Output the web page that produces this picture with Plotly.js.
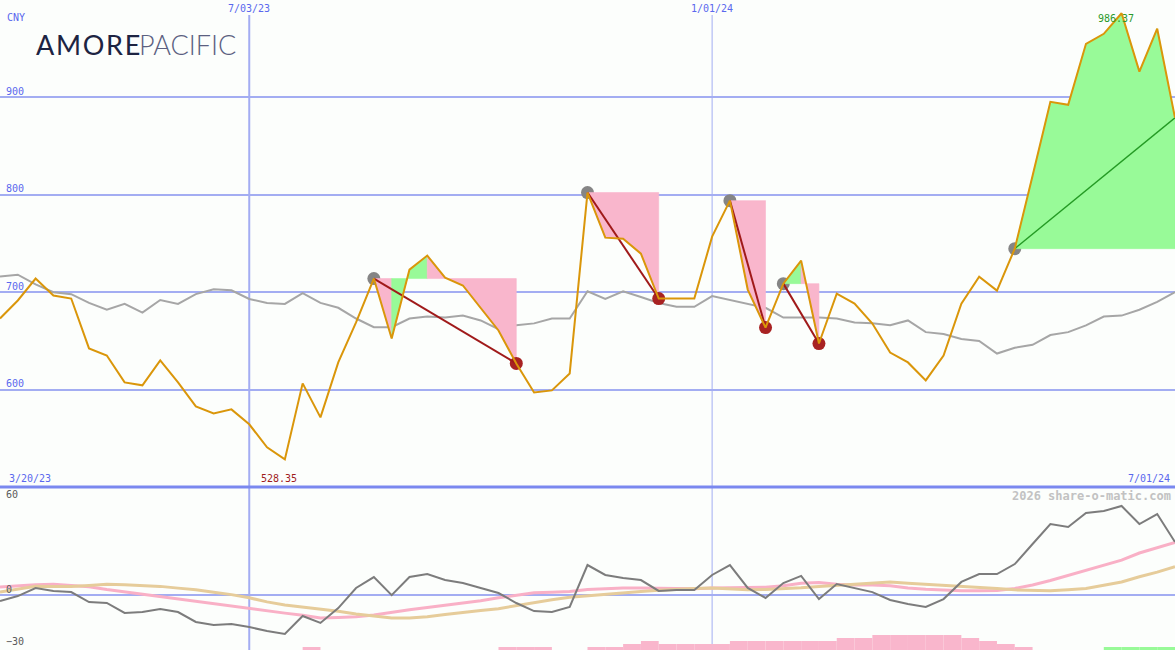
<!DOCTYPE html>
<html>
<head>
<meta charset="utf-8">
<script src="https://cdn.plot.ly/plotly-3.0.1.min.js"></script>
<style>
html,body{margin:0;padding:0;background:#fcfefc;}
#chart{width:1175px;height:650px;}
</style>
</head>
<body>
<div id="chart"></div>
<script>
// ---------- DATA ----------
const startDate = '2023-03-27';   // first weekly bar (Mondays)
const nWeeks = 67;
const currency = 'CNY';
const brandA = 'AMORE';
const brandB = 'PACIFIC';

// weekly close price (CNY)
const price = [673, 691.5, 714, 696.6, 693.5, 642.3, 635, 607.4, 604.4, 630,
  607.4, 582.8, 575.6, 579.7, 564.4, 540.8, 528.35, 606.4, 571.5, 628,
  669, 714, 652.5, 723.2, 737.6, 715, 706.9, 683.3, 660.7, 626.9,
  597.1, 599.2, 616.6, 802.3, 756, 755, 739.6, 693.5, 693.5, 693.5,
  757, 794, 702.7, 663.7, 708.8, 732.4, 647.3, 698.5, 688.3, 667.8,
  638, 627.9, 609.4, 635, 688.3, 716, 701.6, 744.7, 819.6, 895.5,
  892.4, 955, 965.3, 986.37, 926.5, 970.5, 879];

// moving average (grey)
const movingAvg = [716, 718, 708, 700, 698, 689, 682, 688, 679, 692,
  688, 698, 703, 702, 693, 689, 688, 699, 689, 684,
  673, 664, 664, 673, 675, 674, 676, 671, 662, 666,
  668, 673, 673, 701, 693, 701, 695, 689, 685, 685,
  696, 692, 688, 684, 674, 674, 674, 673, 669, 668,
  666, 671, 659, 657, 652, 650, 637, 643, 646, 656,
  659, 666, 675, 676, 682, 690, 700];

// lower panel: momentum (grey), fast signal (pink), slow signal (tan)
const momentum = [-4.0, -0.9, 4.2, 2.3, 1.6, -4.7, -5.3, -11.6, -11.0, -9.1,
  -11.0, -17.3, -19.2, -18.6, -20.5, -23.0, -24.9, -13.5, -17.9, -8.5,
  4.2, 11.1, -0.3, 11.1, 13.0, 9.2, 7.3, 4.2, 1.0, -5.3,
  -10.4, -11.0, -7.8, 18.7, 12.4, 10.5, 9.2, 2.3, 2.9, 2.9,
  12.4, 18.7, 4.2, -2.1, 7.3, 11.8, -2.8, 6.7, 4.2, 1.6,
  -3.4, -5.9, -7.8, -2.8, 8.0, 13.0, 13.0, 19.3, 32.0, 44.6,
  42.7, 51.6, 52.8, 56.0, 44.6, 50.9, 33.2];
const signalFast = [4.8, 5.5, 6.3, 6.5, 5.6, 5.0, 3.2, 1.7, 0.0, -1.5,
  -3.0, -4.4, -5.8, -7.4, -9.0, -10.5, -11.7, -13.0, -14.8, -14.5,
  -14.0, -12.9, -11.1, -9.6, -8.1, -6.8, -5.4, -3.9, -2.0, -0.3,
  1.1, 1.5, 2.0, 3.3, 3.9, 4.2, 4.2, 4.0, 3.6, 3.7,
  4.1, 4.3, 4.5, 4.7, 5.6, 7.2, 7.6, 6.6, 6.1, 6.1,
  5.6, 4.2, 3.4, 2.8, 2.5, 2.4, 2.6, 3.9, 6.1, 8.9,
  12.1, 15.3, 18.4, 21.8, 26.3, 29.8, 33.0];
const signalSlow = [1.6, 3.5, 5.3, 5.1, 5.1, 5.8, 6.6, 6.3, 5.8, 5.2,
  4.1, 3.1, 1.5, 0.0, -2.0, -4.6, -6.5, -7.8, -8.9, -10.5,
  -12.2, -13.6, -14.8, -14.8, -14.0, -12.6, -11.1, -10.0, -8.9, -6.9,
  -5.0, -3.2, -1.7, -0.7, 0.1, 1.0, 2.0, 2.8, 3.4, 3.8,
  4.1, 3.6, 3.0, 3.3, 3.6, 4.3, 5.1, 5.9, 6.4, 7.3,
  7.9, 7.2, 6.6, 5.8, 5.2, 4.6, 3.8, 3.0, 2.7, 2.4,
  3.1, 3.9, 5.9, 8.0, 11.3, 14.2, 17.6];

// histogram strength blocks at the bottom (levels)
const pinkBars = [0,0,0,0,0,0,0,0,0,0, 0,0,0,0,0,0,0,1,0,0,
  0,0,0,0,0,0,0,0,1,1, 1,0,0,1,1,2,3,2,2,2,
  2,3,3,3,3,3,3,4,4,5, 5,5,5,5,4,3,2,1,0,0,
  0,0,0,0,0,0,0];
const greenBars = [0,0,0,0,0,0,0,0,0,0, 0,0,0,0,0,0,0,0,0,0,
  0,0,0,0,0,0,0,0,0,0, 0,0,0,0,0,0,0,0,0,0,
  0,0,0,0,0,0,0,0,0,0, 0,0,0,0,0,0,0,0,0,0,
  0,0,1,1,1,1,1];

// trades (week indexes); exit null = still open
const tradeEntry = [21, 33, 41, 44, 57];
const tradeExit  = [29, 37, 43, 46, null];

// axes
const priceGrid = [600, 700, 800, 900];
const momentumLabels = [60, 0, -30];
const markerDates = ['2023-07-03', '2024-01-01'];
const markerLabels = ['7/03/23', '1/01/24'];
const markerWidths = [2, 1];
const firstLabel = '3/20/23';
const lastLabel = '7/01/24';
const credit = '2026 share-o-matic.com';

// ---------- BUILD ----------
const DAY = 86400000;
const t0 = Date.parse(startDate + 'T00:00:00Z');
const dates = [];
const mids = [];
for (let i = 0; i < nWeeks; i++) {
  dates.push(new Date(t0 + i * 7 * DAY).toISOString().slice(0, 10));
  mids.push(new Date(t0 + i * 7 * DAY + 3.5 * DAY).toISOString().slice(0, 19));
}
const last = nWeeks - 1;

const H = 650;
const mainBottom = 163 / H;
const py = px => 1 - px / H;  // pixel-from-top -> paper

const PINK = '#f9b6cc', GREEN = '#98fa98';
const MONO = 'DejaVu Sans Mono';
const BLUE_TXT = '#5a68ee';
const GRID = '#a3adf2';

const traces = [];

// grey moving average
traces.push({x: dates, y: movingAvg, mode: 'lines', line: {color: '#a6a6a6', width: 2}, hoverinfo: 'skip'});

// entry markers (grey)
traces.push({x: tradeEntry.map(i => dates[i]), y: tradeEntry.map(i => price[i]), mode: 'markers',
  marker: {color: '#858585', size: 13}, hoverinfo: 'skip'});

// trade fills: runs of same-colour segments merged into one polygon
tradeEntry.forEach((e, k) => {
  const open = tradeExit[k] === null;
  const x = open ? last : tradeExit[k];
  const lvl = price[e];
  const segCol = i => open ? GREEN : (price[i + 1] > price[i] ? GREEN : PINK);
  let s = e;
  while (s < x) {
    const col = segCol(s);
    let t = s + 1;
    while (t < x && segCol(t) === col) t++;
    const xs = [dates[s]], ys = [lvl];
    for (let i = s; i <= t; i++) { xs.push(dates[i]); ys.push(price[i]); }
    xs.push(dates[t], dates[s]); ys.push(lvl, lvl);
    traces.push({x: xs, y: ys, mode: 'lines', fill: 'toself', fillcolor: col,
      line: {width: 0.6, color: col}, hoverinfo: 'skip'});
    s = t;
  }
});

// exit markers (red)
const closed = tradeExit.filter(v => v !== null);
traces.push({x: closed.map(i => dates[i]), y: closed.map(i => price[i]), mode: 'markers',
  marker: {color: '#a82222', size: 13}, hoverinfo: 'skip'});

// trade lines
tradeEntry.forEach((e, k) => {
  const open = tradeExit[k] === null;
  const x = open ? last : tradeExit[k];
  traces.push({x: [dates[e], dates[x]], y: [price[e], price[x]], mode: 'lines',
    line: {color: open ? '#249a24' : '#a01a1a', width: open ? 1.5 : 2}, hoverinfo: 'skip'});
});

// price line
traces.push({x: dates, y: price, mode: 'lines', line: {color: '#da960a', width: 2}, hoverinfo: 'skip'});

// lower panel bars
traces.push({x: mids, y: pinkBars, type: 'bar', width: 7 * DAY, yaxis: 'y3',
  marker: {color: PINK, line: {width: 0}}, hoverinfo: 'skip'});
traces.push({x: mids, y: greenBars, type: 'bar', width: 7 * DAY, yaxis: 'y3',
  marker: {color: GREEN, line: {width: 0}}, hoverinfo: 'skip'});

// lower panel lines
traces.push({x: dates, y: signalFast, yaxis: 'y2', mode: 'lines', line: {color: '#f9b0c6', width: 3}, hoverinfo: 'skip'});
traces.push({x: dates, y: signalSlow, yaxis: 'y2', mode: 'lines', line: {color: '#e6cc9a', width: 3}, hoverinfo: 'skip'});
traces.push({x: dates, y: momentum, yaxis: 'y2', mode: 'lines', line: {color: '#7c7c7c', width: 2}, hoverinfo: 'skip'});

// ---------- ANNOTATIONS ----------
const ann = [];
const small = (c) => ({family: MONO, size: 10, color: c});

ann.push({xref: 'paper', yref: 'paper', x: 0, y: py(17), xshift: 5, text: currency, showarrow: false,
  xanchor: 'left', yanchor: 'middle', font: small(BLUE_TXT)});
priceGrid.forEach(v => ann.push({xref: 'paper', yref: 'y', x: 0, y: v, xshift: 4, yshift: 6, text: String(v),
  showarrow: false, xanchor: 'left', yanchor: 'middle', font: small(BLUE_TXT)}));
markerDates.forEach((d, k) => ann.push({xref: 'x', yref: 'paper', x: d, y: py(8), text: markerLabels[k],
  showarrow: false, xanchor: 'center', yanchor: 'middle', font: small(BLUE_TXT)}));
ann.push({xref: 'paper', yref: 'paper', x: 0, y: py(478), xshift: 7, text: firstLabel, showarrow: false,
  xanchor: 'left', yanchor: 'middle', font: small(BLUE_TXT)});
ann.push({xref: 'paper', yref: 'paper', x: 1, y: py(478), xshift: -3, text: lastLabel, showarrow: false,
  xanchor: 'right', yanchor: 'middle', font: small(BLUE_TXT)});

// min / max labels
const minIdx = price.indexOf(Math.min(...price));
const maxIdx = price.indexOf(Math.max(...price));
ann.push({xref: 'x', yref: 'paper', x: dates[minIdx], y: py(478), xshift: -6, text: price[minIdx].toFixed(2),
  showarrow: false, xanchor: 'center', yanchor: 'middle', font: small('#a01c1c')});
ann.push({xref: 'x', yref: 'y', x: dates[maxIdx], y: price[maxIdx], xshift: -6, yshift: -5,
  text: price[maxIdx].toFixed(2), showarrow: false, xanchor: 'center', yanchor: 'middle', font: small('#2a9a2a')});

// lower panel labels
momentumLabels.forEach(v => ann.push({xref: 'paper', yref: 'y2', x: 0, y: v, xshift: 4, yshift: v === -30 ? 1 : 5,
  text: String(v).replace('-', '\u2212'), showarrow: false, xanchor: 'left', yanchor: 'middle', font: small('#5a5a5a')}));

ann.push({xref: 'paper', yref: 'paper', x: 1, y: py(496), xshift: -2, text: '<b>' + credit + '</b>', showarrow: false,
  xanchor: 'right', yanchor: 'middle', font: {family: MONO, size: 12, color: '#c2c2c2'}});

// logo
const spaced = s => s.split('').join('\u200A');
ann.push({xref: 'paper', yref: 'paper', x: 0, y: py(44), xshift: 34, text: spaced(brandA), showarrow: false,
  xanchor: 'left', yanchor: 'middle', font: {family: 'Lato', size: 27, color: '#1d2442'}});
ann.push({xref: 'paper', yref: 'paper', x: 0, y: py(44), xshift: 137, text: brandB, showarrow: false,
  xanchor: 'left', yanchor: 'middle', font: {family: 'Lato', size: 27, color: '#5b6080', weight: 300}});

// ---------- SHAPES ----------
const shapes = [];
markerDates.forEach((d, k) => shapes.push({type: 'line', xref: 'x', yref: 'paper', x0: d, x1: d,
  y0: 0, y1: py(15), line: {color: GRID, width: markerWidths[k]}, layer: 'below'}));
shapes.push({type: 'line', xref: 'paper', yref: 'paper', x0: 0, x1: 1, y0: mainBottom, y1: mainBottom,
  line: {color: '#7a88ef', width: 3}});

const layout = {
  width: 1175, height: 650,
  margin: {l: 0, r: 0, t: 0, b: 0, pad: 0},
  paper_bgcolor: '#fcfefc', plot_bgcolor: '#fcfefc',
  showlegend: false, barmode: 'overlay',
  xaxis: {type: 'date', range: [dates[0], dates[last]], showgrid: false, zeroline: false,
    showticklabels: false, ticks: '', showline: false, fixedrange: true},
  yaxis: {domain: [mainBottom, 1], range: [500, 1000], tickvals: priceGrid, showgrid: true,
    gridcolor: GRID, gridwidth: 2, showticklabels: false, ticks: '', zeroline: false, showline: false},
  yaxis2: {domain: [0, mainBottom], range: [-35, 68], tickvals: [0], showgrid: true,
    gridcolor: GRID, gridwidth: 2, showticklabels: false, ticks: '', zeroline: false, showline: false, anchor: 'x'},
  yaxis3: {domain: [0, mainBottom], range: [0, 163 / 3], overlaying: 'y2', showgrid: false,
    showticklabels: false, ticks: '', zeroline: false, showline: false, anchor: 'x'},
  annotations: ann,
  shapes: shapes
};

Plotly.newPlot('chart', traces, layout, {staticPlot: true, displayModeBar: false});
</script>
</body>
</html>
